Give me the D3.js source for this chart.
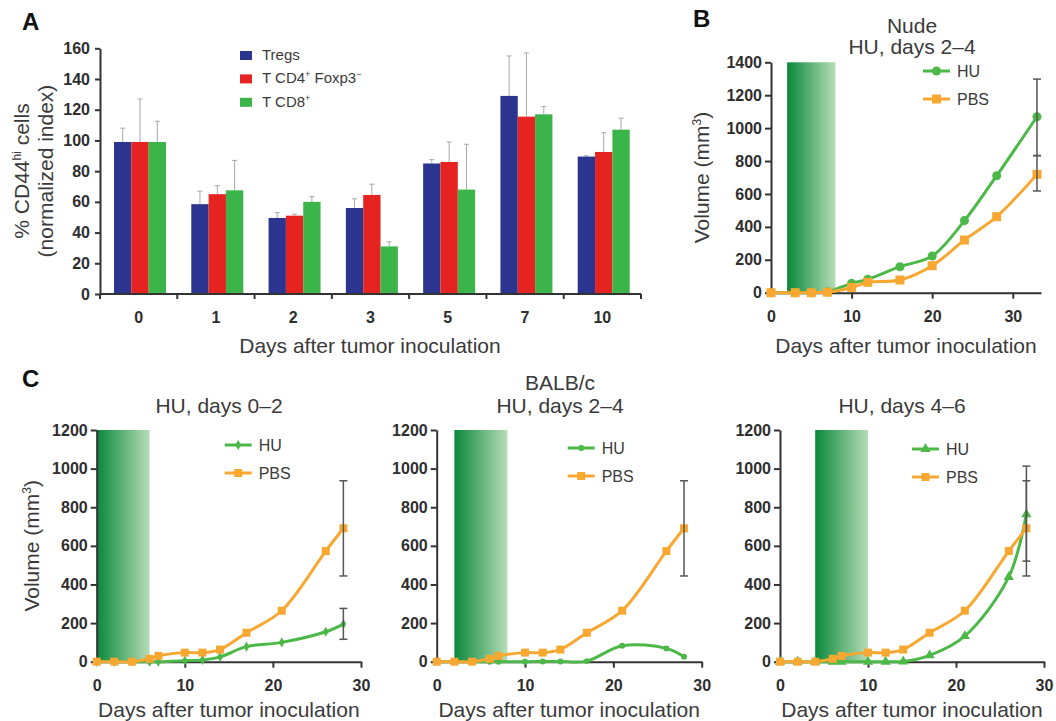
<!DOCTYPE html>
<html>
<head>
<meta charset="utf-8">
<script src="https://cdn.jsdelivr.net/npm/d3@7"></script>
<style>
  body { margin: 0; background: #fff; }
  svg { display: block; font-family: "Liberation Sans", Arial, sans-serif; }
  .tick text { font-weight: bold; font-size: 16px; fill: #2e2e2e; }
  .domain, .tick line { stroke: #333; stroke-width: 2; }
</style>
</head>
<body>
<svg id="fig" width="1056" height="721"></svg>
<script>
/*******************************************
 *   Panel A: CD44hi cells, grouped bars    *
 *******************************************/
const barDays = ["0", "1", "2", "3", "5", "7", "10"];
const tregsMean = [99, 58.5, 49.5, 56, 85, 129, 89.5];
const tregsErr  = [108, 67, 53, 62, 87.5, 155, 90];
const cd4Mean   = [99, 65, 51, 64.5, 86, 115.5, 92.5];
const cd4Err    = [127, 70.5, 52, 71.5, 99, 157, 105];
const cd8Mean   = [99, 67.5, 60, 31, 68, 117, 107];
const cd8Err    = [112.5, 87, 63.5, 34, 97.5, 122, 114.5];
const barTicks  = [0, 20, 40, 60, 80, 100, 120, 140, 160];

/*******************************************
 *   Panel B: nude mice, HU days 2-4        *
 *******************************************/
const nudeDays = [0, 3, 5, 7, 10, 12, 16, 20, 24, 28, 33];
const nudeHU   = [0, 0, 0, 5, 57, 81, 158, 223, 438, 711, 1069];
const nudePBS  = [0, 0, 0, 3, 32, 63, 77, 164, 320, 462, 719];
const nudeHUErr  = [833, 1298];
const nudePBSErr = [618, 833];
const nudeBand   = [2, 8];
const nudeTicksY = [0, 200, 400, 600, 800, 1000, 1200, 1400];

/*******************************************
 *   Panel C: BALB/c mice, 3 schedules      *
 *******************************************/
const balbDays = [0, 2, 4, 6, 7, 10, 12, 14, 17, 21, 26, 28];
const balbPBS  = [0, 0, 0, 15, 30, 47, 47, 63, 150, 264, 573, 691];
const huDays02 = [0, 0, 0, 0, 0, 5, 9, 25, 78, 100, 155, 195];
const huDays24 = [0, 0, 0, 0, 0, 0, 1, 1, 3, 83, 69, 26];
const huDays46 = [0, 0, 0, 0, 0, 0, 0, 1, 33, 133, 439, 763];
const balbPBSErr = [444, 937];
const hu02Err    = [116, 276];
const hu46Err    = [521, 1013];
const balbTicksY = [0, 200, 400, 600, 800, 1000, 1200];
const daysTicksX = [0, 10, 20, 30];

const ink = "#333";
const textInk = "#3a3a3a";
const barColors = ["#2b3590", "#e52421", "#3bb44a"];
const huColor = "#4cb848";
const pbsColor = "#f8a731";
const plain = d3.format("d");

const svg = d3.select("#fig");

// gradient for the treatment window
const grad = svg.append("defs").append("linearGradient")
    .attr("id", "huBand").attr("x1", 0).attr("x2", 1).attr("y1", 0).attr("y2", 0);
grad.append("stop").attr("offset", 0).attr("stop-color", "#08893a");
grad.append("stop").attr("offset", 1).attr("stop-color", "#b6dcb7");

// small helper for rotated axis titles with optional superscript
function yTitle(g, cx, cy, parts) {
    const t = g.append("text")
        .attr("transform", `translate(${cx},${cy}) rotate(-90)`)
        .attr("text-anchor", "middle").attr("dy", "0.35em")
        .attr("font-size", 21).attr("fill", textInk);
    parts.forEach(p => {
        const s = t.append("tspan").text(p.text);
        if (p.sup) s.attr("font-size", 12).attr("dy", -8);
        if (p.after) s.attr("dy", 8);
    });
}

function panelLetter(x, y, letter) {
    svg.append("text").attr("x", x).attr("y", y)
        .attr("font-size", 24).attr("font-weight", "bold").attr("fill", "#111")
        .text(letter);
}

/* ---------- Panel A ---------- */
function drawBars() {
    const g = svg.append("g");
    const x0 = d3.scaleBand().domain(barDays).range([100, 641]);
    const x1 = d3.scaleBand().domain([0, 1, 2]).range([14, 66]);
    const y = d3.scaleLinear().domain([0, 160]).range([294, 48.3]);

    const rows = barDays.map((d, i) => ({
        day: d,
        vals: [tregsMean[i], cd4Mean[i], cd8Mean[i]],
        errs: [tregsErr[i], cd4Err[i], cd8Err[i]]
    }));

    const groups = g.selectAll(".grp").data(rows).enter().append("g")
        .attr("transform", d => `translate(${x0(d.day)},0)`);

    // error whiskers (upper only)
    groups.selectAll(".err").data(d => d.errs.map((e, k) => ({ k, e, v: d.vals[k] })))
        .enter().append("g").each(function (d) {
            const cx = x1(d.k) + x1.bandwidth() / 2;
            const s = d3.select(this);
            s.append("line").attr("x1", cx).attr("x2", cx)
                .attr("y1", y(d.v)).attr("y2", y(d.e))
                .attr("stroke", "#a8a8a8").attr("stroke-width", 1);
            s.append("line").attr("x1", cx - 2.5).attr("x2", cx + 2.5)
                .attr("y1", y(d.e)).attr("y2", y(d.e))
                .attr("stroke", "#a8a8a8").attr("stroke-width", 1);
        });

    groups.selectAll("rect").data(d => d.vals.map((v, k) => ({ k, v })))
        .enter().append("rect")
        .attr("x", d => x1(d.k))
        .attr("width", x1.bandwidth())
        .attr("y", d => y(d.v))
        .attr("height", d => y(0) - y(d.v))
        .attr("fill", d => barColors[d.k]);

    // axes
    g.append("g").attr("transform", "translate(100,0)")
        .call(d3.axisLeft(y).tickValues(barTicks).tickFormat(plain)
            .tickSize(5).tickPadding(5).tickSizeOuter(0));
    const xa = g.append("g").attr("transform", "translate(0,294)")
        .call(d3.axisBottom(x0).tickSize(0).tickPadding(18).tickSizeOuter(0));
    xa.select(".domain").attr("d", `M${x0.range()[0]},0H${x0.range()[1]}`);
    const bounds = barDays.map(d => x0(d)).concat([x0.range()[1]]);
    g.selectAll(".bnd").data(bounds).enter().append("line")
        .attr("x1", d => d).attr("x2", d => d)
        .attr("y1", 294).attr("y2", 299)
        .attr("stroke", ink).attr("stroke-width", 2);

    g.append("text").attr("x", 370).attr("y", 353).attr("text-anchor", "middle")
        .attr("font-size", 21).attr("fill", textInk).text("Days after tumor inoculation");
    yTitle(g, 22, 171, [{ text: "% CD44" }, { text: "hi", sup: true }, { text: " cells", after: true }]);
    yTitle(g, 46, 171, [{ text: "(normalized index)" }]);

    // legend
    const leg = g.append("g");
    const legRows = [
        [{ t: "Tregs" }],
        [{ t: "T CD4" }, { t: "+", sup: true }, { t: " Foxp3", after: true }, { t: "−", sup: true }],
        [{ t: "T CD8" }, { t: "+", sup: true }]
    ];
    legRows.forEach((parts, i) => {
        const by = 60 + i * 23.4;
        leg.append("rect").attr("x", 240).attr("y", by - 9).attr("width", 12).attr("height", 9)
            .attr("fill", barColors[i]);
        const t = leg.append("text").attr("x", 262).attr("y", by)
            .attr("font-size", 15).attr("fill", textInk);
        parts.forEach(p => {
            const s = t.append("tspan").text(p.t);
            if (p.sup) s.attr("font-size", 9).attr("dy", -6);
            if (p.after) s.attr("dy", 6);
        });
    });
}

/* ---------- line panels (B and C) ---------- */
function drawGrowth(c) {
    const g = svg.append("g");
    const x = d3.scaleLinear().domain([0, c.xMax]).range(c.xRange);
    const y = d3.scaleLinear().domain([0, c.yMax]).range(c.yRange);

    g.append("rect")
        .attr("x", x(c.band[0])).attr("width", x(c.band[1]) - x(c.band[0]))
        .attr("y", y(c.yMax)).attr("height", y(0) - y(c.yMax))
        .attr("fill", "url(#huBand)");

    g.append("g").attr("transform", `translate(${x(0)},0)`)
        .call(d3.axisLeft(y).tickValues(c.yTicks).tickFormat(plain)
            .tickSize(6).tickPadding(3).tickSizeOuter(0));
    const xa = g.append("g").attr("transform", `translate(0,${y(0)})`)
        .call(d3.axisBottom(x).tickValues(daysTicksX).tickFormat(plain)
            .tickSize(6).tickPadding(12).tickSizeOuter(0));
    xa.selectAll(".tick").filter(d => d === 0).select("line").remove();

    const line = d3.line()
        .x((d, i) => x(c.days[i]))
        .y(d => y(d))
        .curve(d3.curveCatmullRom.alpha(0.5));

    const series = [
        { vals: c.hu, color: huColor, sym: c.huSym, size: c.huSize, err: c.huErr },
        { vals: c.pbs, color: pbsColor, sym: d3.symbolSquare, size: c.pbsSize, err: c.pbsErr }
    ];

    series.forEach(s => {
        g.append("path").datum(s.vals).attr("d", line)
            .attr("fill", "none").attr("stroke", s.color).attr("stroke-width", 3);
        g.selectAll(null).data(s.vals).enter().append("path")
            .attr("transform", (d, i) => `translate(${x(c.days[i])},${y(d)})`)
            .attr("d", d3.symbol().type(s.sym).size(s.size))
            .attr("fill", s.color);
    });

    // error bars at the last time point
    const lastDay = c.days[c.days.length - 1];
    series.filter(s => s.err).forEach(s => {
        const ex = x(lastDay);
        const eg = g.append("g").attr("stroke", "#555").attr("stroke-width", 1.5);
        eg.append("line").attr("x1", ex).attr("x2", ex).attr("y1", y(s.err[0])).attr("y2", y(s.err[1]));
        s.err.forEach(v => eg.append("line").attr("x1", ex - 4).attr("x2", ex + 4)
            .attr("y1", y(v)).attr("y2", y(v)));
    });

    // legend
    [["HU", huColor, c.huSym, c.huSize], ["PBS", pbsColor, d3.symbolSquare, c.pbsSize]].forEach((r, i) => {
        const ly = c.legY + i * 28;
        const lx = x(0) + c.legDx;
        g.append("line").attr("x1", lx).attr("x2", lx + 27).attr("y1", ly).attr("y2", ly)
            .attr("stroke", r[1]).attr("stroke-width", 3);
        g.append("path").attr("transform", `translate(${lx + 13.5},${ly})`)
            .attr("d", d3.symbol().type(r[2]).size(r[3])).attr("fill", r[1]);
        g.append("text").attr("x", lx + 34).attr("y", ly).attr("dy", "0.36em")
            .attr("font-size", 16).attr("fill", textInk).text(r[0]);
    });

    // titles
    c.title.forEach((t, i) => {
        g.append("text").attr("x", c.titleX).attr("y", c.titleY[i]).attr("text-anchor", "middle")
            .attr("font-size", 21).attr("fill", textInk).text(t);
    });
    g.append("text").attr("x", (c.xRange[0] + c.xRange[1]) / 2).attr("y", c.xTitleY)
        .attr("text-anchor", "middle").attr("font-size", 21).attr("fill", textInk)
        .text("Days after tumor inoculation");
    if (c.yTitleX !== undefined) {
        yTitle(g, c.yTitleX, (c.yRange[0] + c.yRange[1]) / 2,
            [{ text: "Volume (mm" }, { text: "3", sup: true }, { text: ")", after: true }]);
    }
}

drawBars();
panelLetter(22, 30, "A");

drawGrowth({
    days: nudeDays, hu: nudeHU, pbs: nudePBS, huErr: nudeHUErr, pbsErr: nudePBSErr,
    band: nudeBand, yMax: 1400, yTicks: nudeTicksY, xMax: 33.5,
    xRange: [771, 1041], yRange: [292.7, 62.3],
    huSym: d3.symbolCircle, huSize: 64, pbsSize: 81,
    legY: 71, legDx: 152,
    title: ["Nude", "HU, days 2–4"], titleX: 912, titleY: [33, 54],
    xTitleY: 353, yTitleX: 702
});
panelLetter(693, 27, "B");

const cLayout = { yMax: 1200, yTicks: balbTicksY, xMax: 30, yRange: [661.7, 430], xTitleY: 717, pbsSize: 64 };

drawGrowth(Object.assign({}, cLayout, {
    days: balbDays, hu: huDays02, pbs: balbPBS, huErr: hu02Err, pbsErr: balbPBSErr,
    band: [0, 6], xRange: [96.7, 361],
    huSym: d3.symbolDiamond, huSize: 30,
    legY: 445, legDx: 128,
    title: ["HU, days 0–2"], titleX: 219, titleY: [413], yTitleX: 32
}));
drawGrowth(Object.assign({}, cLayout, {
    days: balbDays, hu: huDays24, pbs: balbPBS, huErr: null, pbsErr: balbPBSErr,
    band: [2, 8], xRange: [436.7, 701.7],
    huSym: d3.symbolCircle, huSize: 28,
    legY: 448, legDx: 131,
    title: ["BALB/c", "HU, days 2–4"], titleX: 560, titleY: [390, 413]
}));
drawGrowth(Object.assign({}, cLayout, {
    days: balbDays, hu: huDays46, pbs: balbPBS, huErr: hu46Err, pbsErr: balbPBSErr,
    band: [4, 10], xRange: [780, 1044],
    huSym: d3.symbolTriangle, huSize: 45,
    legY: 449, legDx: 132,
    title: ["HU, days 4–6"], titleX: 902, titleY: [413]
}));
panelLetter(22, 387, "C");
</script>
</body>
</html>
